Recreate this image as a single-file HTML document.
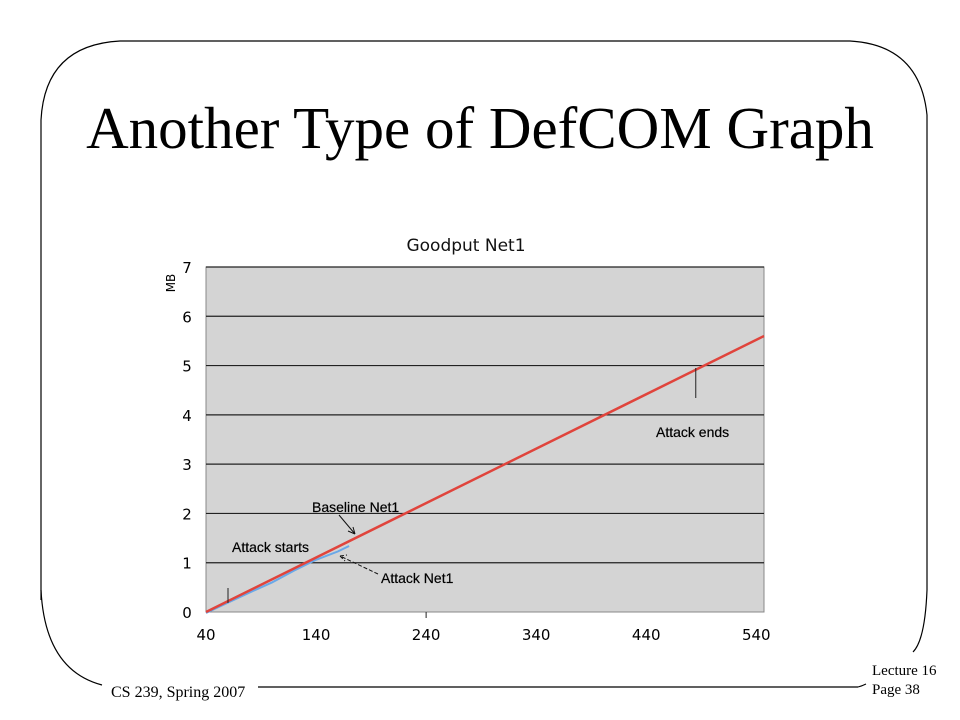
<!DOCTYPE html>
<html><head><meta charset="utf-8"><style>
html,body{margin:0;padding:0;background:#fff;width:960px;height:720px;overflow:hidden}
svg{display:block}
</style></head><body>
<svg id="s" width="960" height="720" xmlns="http://www.w3.org/2000/svg">
<path d="M41,600 L41,120 Q45,45 120,41 L850,41 Q920,45 927,115 L927,590 Q925,640 913,652" fill="none" stroke="#000" stroke-width="1.2"/>
<path d="M41,590 Q45,670 102,685" fill="none" stroke="#000" stroke-width="1.2"/>
<line x1="258" y1="687" x2="858" y2="687" stroke="#000" stroke-width="1.2"/>
<path d="M858,687 Q862,686 866,684" fill="none" stroke="#000"/>
<text x="480" y="148" text-anchor="middle" font-family="Liberation Serif, serif" font-size="59">Another Type of DefCOM Graph</text>
<text x="111" y="697" font-family="Liberation Serif, serif" font-size="16">CS 239, Spring 2007</text>
<text x="872" y="675" font-family="Liberation Serif, serif" font-size="15">Lecture 16</text>
<text x="872" y="694" font-family="Liberation Serif, serif" font-size="15">Page 38</text>
<g id="chart"></g>
</svg>
<script>
var xTicks=[40,140,240,340,440,540];
var yTicks=[0,1,2,3,4,5,6,7];
var baselineX=[40,547];
var baselineY=[0,5.6];
var attackX=[40,60,80,100,120,140,160,170];
var attackY=[0,0.21,0.42,0.62,0.86,1.08,1.25,1.36];
var attackStartX=60, attackEndX=485;

var L=206,R=764,T=267,B=612,xMin=40,xMax=547,yMax=7;
function sx(v){return L+(v-xMin)/(xMax-xMin)*(R-L);}
function sy(v){return B-v/yMax*(B-T);}
var g=document.getElementById('chart');
var NS='http://www.w3.org/2000/svg';
function mk(tag,attrs,txt){var e=document.createElementNS(NS,tag);for(var k in attrs)e.setAttribute(k,attrs[k]);if(txt!=null)e.textContent=txt;g.appendChild(e);return e;}
var F='DejaVu Sans, Liberation Sans, sans-serif';

var bg=mk('rect',{x:L,y:T,width:R-L,height:B-T,fill:'#d4d4d4',stroke:'#888','stroke-width':1});


var t=mk('text',{x:466,y:251,'text-anchor':'middle','font-family':F,'font-size':17,fill:'#111'},'Goodput Net1');


var yt=mk('text',{x:0,y:0,'text-anchor':'middle','font-family':F,'font-size':12,transform:'translate(175,283) rotate(-90)'},'MB');



yTicks.forEach(function(v){
  if(v>0){var gl=mk('line',{x1:L,x2:R,y1:sy(v),y2:sy(v),stroke:'#222','stroke-width':1.2});
  
  }
  var tl=mk('text',{x:187,y:sy(v)+6,'text-anchor':'middle','font-family':F,'font-size':15},String(v));
  
  
});
xTicks.forEach(function(v){
  var tl=mk('text',{x:sx(v),y:640,'text-anchor':'middle','font-family':F,'font-size':15},String(v));
  
  
});
var tk=mk('line',{x1:sx(240),x2:sx(240),y1:B,y2:B+6,stroke:'#222'});



var pts=attackX.map(function(x,i){return sx(x)+','+(sy(attackY[i])+1);}).join(' ');
var al=mk('polyline',{points:pts,fill:'none',stroke:'#6aa8e8','stroke-width':2});


var bl=mk('line',{x1:sx(baselineX[0]),y1:sy(baselineY[0]),x2:sx(baselineX[1]),y2:sy(baselineY[1]),stroke:'#e0443c','stroke-width':2.5});



var m1=mk('line',{x1:sx(attackStartX),x2:sx(attackStartX),y1:588,y2:603,stroke:'#222'});


var m2=mk('line',{x1:sx(attackEndX),x2:sx(attackEndX),y1:368,y2:398,stroke:'#222'});



function lab(x,y,s,n){var e=mk('text',{x:x,y:y,'font-family':'Liberation Sans, sans-serif','font-size':14,'stroke':'#000','stroke-width':0.2},s);}
lab(312,512,'Baseline Net1','baseline-annotation');
lab(232,552,'Attack starts','attack-starts-annotation');
lab(381,583,'Attack Net1','attack-net1-annotation');
lab(656,437,'Attack ends','attack-ends-annotation');
var a1=mk('path',{d:'M339,515 L355,534 M355,534 L348,531 M355,534 L353,527',fill:'none',stroke:'#111','stroke-width':1});


var a2=mk('path',{d:'M378,574 L340,556 M340,556 L345,561 M340,556 L347,555',fill:'none',stroke:'#111','stroke-width':1,'stroke-dasharray':'4,2'});


</script>
</body></html>
